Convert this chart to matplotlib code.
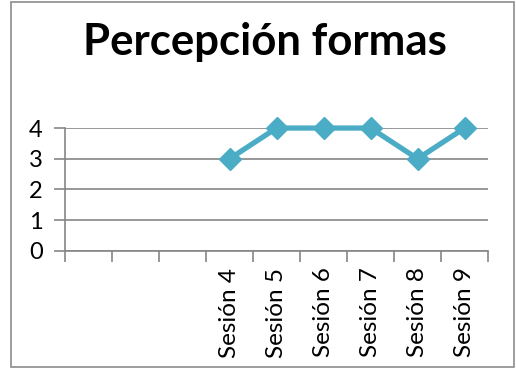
import matplotlib
matplotlib.use("Agg")
import matplotlib.pyplot as plt
from matplotlib.patches import Rectangle

# session scores; the first three slots are left blank on the axis
categories = ["", "", "", "Sesión 4", "Sesión 5", "Sesión 6", "Sesión 7", "Sesión 8", "Sesión 9"]
scores = [None, None, None, 3, 4, 4, 4, 3, 4]

line_color = "#4BACC6"
grid_color = "#868686"
plt.rcParams["font.family"] = ["Lato", "DejaVu Sans"]

fig = plt.figure(figsize=(5.16, 3.69), dpi=100)
ax = fig.add_axes([0.126, 0.320, 0.820, 0.333])

xs = [i for i, v in enumerate(scores) if v is not None]
ys = [v for v in scores if v is not None]
ax.plot(xs, ys, color=line_color, linewidth=3.8, marker="D", markersize=11,
        markerfacecolor=line_color, markeredgecolor=line_color, zorder=3,
        clip_on=False)

ax.set_xlim(-0.5, len(categories) - 0.5)
ax.set_ylim(0, 4)
ax.set_yticks([0, 1, 2, 3, 4])
ax.set_xticks(range(len(categories)))
ax.set_xticklabels(categories, rotation=90, fontsize=17.5)
ax.set_xticks([i - 0.5 for i in range(len(categories) + 1)], minor=True)
ax.tick_params(axis="x", which="major", length=0, pad=12)
ax.tick_params(axis="x", which="minor", length=8, color=grid_color, width=1.2)
ax.tick_params(axis="y", length=8, color=grid_color, width=1.2, labelsize=17, pad=8)

ax.yaxis.grid(True, color=grid_color, linewidth=1.2)
ax.set_axisbelow(True)
for side in ("top", "right"):
    ax.spines[side].set_visible(False)
for side in ("left", "bottom"):
    ax.spines[side].set_color(grid_color)
    ax.spines[side].set_linewidth(1.2)

fig.text(0.514, 0.885, "Percepción formas", ha="center", va="center",
         fontsize=31.5, fontweight="bold")

# chart frame
fig.patches.append(Rectangle((0.021, 0.005), 0.975, 0.99, transform=fig.transFigure,
                             fill=False, edgecolor="#8c8c8c", linewidth=1.2))

fig.savefig("out.png", dpi=100)
